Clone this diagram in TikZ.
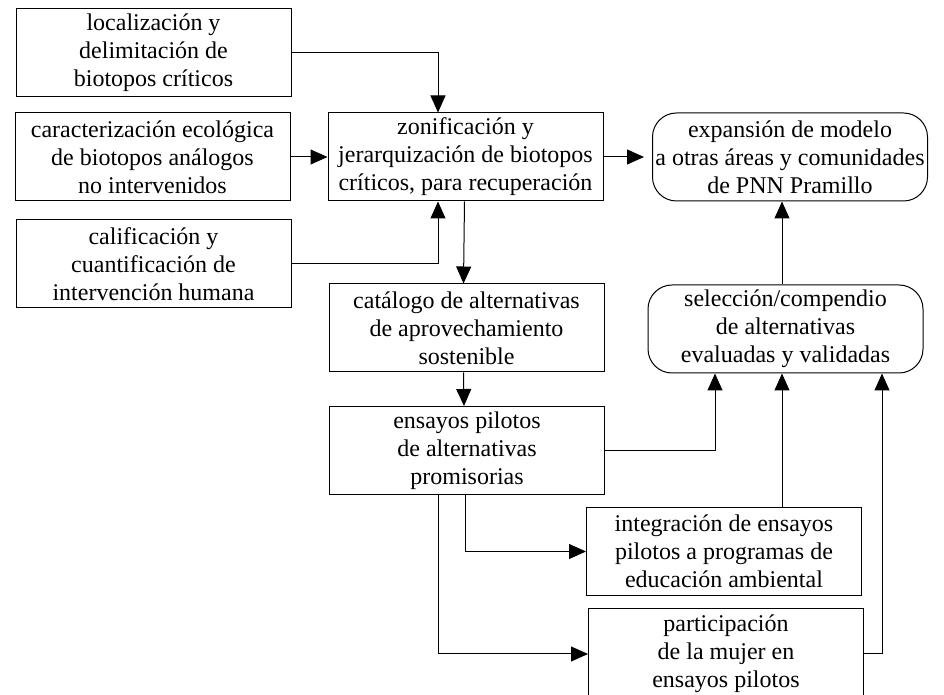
\documentclass[tikz,border=0pt]{standalone}
\usepackage{fontspec}
\setmainfont{Liberation Serif}
\usetikzlibrary{arrows.meta}

\begin{document}
\begin{tikzpicture}[
    x=0.5pt, y=-0.5pt,
    box/.style={draw, line width=0.5pt, inner sep=0pt, align=center,
        minimum width=137.5pt, minimum height=44pt,
        font=\fontsize{12}{14}\selectfont},
    rbox/.style={box, rounded corners=12pt},
    arr/.style={line width=0.5pt, -{Triangle[length=8.5pt,width=7.5pt]}},
]
    \useasboundingbox (0, 0) rectangle (944, 695);
    \clip (0, 0) rectangle (944, 695);

    \node[box] (A) at (153.5, 53) {localización y\\delimitación de\\biotopos críticos};
    \node[box] (B) at (152.5, 157) {caracterización ecológica\\de biotopos análogos\\no intervenidos};
    \node[box] (C) at (153.5, 264) {calificación y\\cuantificación de\\intervención humana};

    \node[box] (Z) at (465.5, 157) {zonificación y\\jerarquización de biotopos\\críticos, para recuperación};
    \node[rbox] (Exp) at (790, 157) {expansión de modelo\\a otras áreas y comunidades\\de PNN Pramillo};

    \node[box] (Cat) at (466.5, 328) {catálogo de alternativas\\de aprovechamiento\\sostenible};
    \node[rbox] (Sel) at (785.5, 329) {selección/compendio\\de alternativas\\evaluadas y validadas};

    \node[box] (Ens) at (467, 450.5) {ensayos pilotos\\de alternativas\\promisorias};
    \node[box] (Int) at (724, 551.5) {integración de ensayos\\pilotos a programas de\\educación ambiental};
    \node[box, minimum height=45pt] (Part) at (726, 654) {participación\\de la mujer en\\ensayos pilotos};

    \draw[arr] (A.east) -| ([xshift=-13.75pt]Z.north);
    \draw[arr] (B.east) -- (Z.west);
    \draw[arr] (C.east) -| ([xshift=-13.75pt]Z.south);
    \draw[arr, shorten >=4pt] (Z.east) -- (Exp.west);
    \draw[arr] ([xshift=-0.5pt]Z.south) -- ([xshift=-1.5pt]Cat.north);
    \draw[arr] ([xshift=-1.5pt]Cat.south) -- ([xshift=-1.5pt]Ens.north);

    \draw[arr] ([xshift=-4pt]Exp.south |- Sel.north) -- ([xshift=-4pt]Exp.south);
    \draw[arr] (Ens.east) -| ([xshift=-35.25pt]Sel.south);
    \draw[arr] ([xshift=-4pt]Exp.south |- Int.north) -- ([xshift=-4pt]Exp.south |- Sel.south);
    \draw[arr] (Part.east) -| ([xshift=48.25pt]Sel.south);

    \draw[arr] ([xshift=-1pt]Ens.south) |- (Int.west);
    \draw[arr] ([xshift=-14.5pt]Ens.south) |- (Part.west);
\end{tikzpicture}
\end{document}
